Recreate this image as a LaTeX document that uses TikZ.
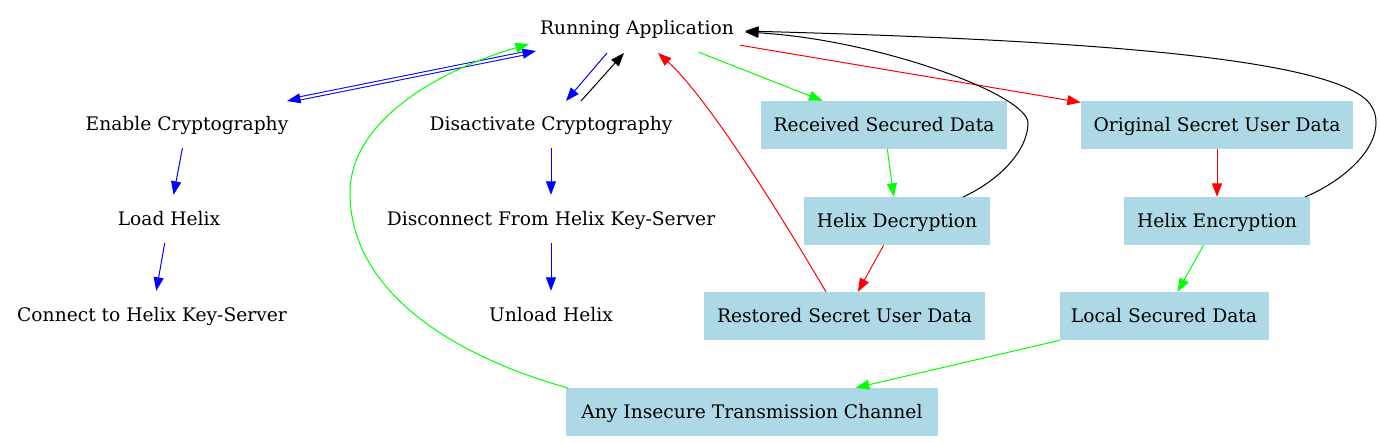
\documentclass[tikz,border=0pt]{standalone}
\usepackage{fontspec}
\setmainfont{DejaVu Serif}
\usetikzlibrary{arrows.meta,calc}
\definecolor{lightblue}{RGB}{173,216,230}
\definecolor{gvgreen}{RGB}{0,255,0}
\definecolor{gvblue}{RGB}{0,0,255}
\definecolor{gvred}{RGB}{255,0,0}
\newcommand{\gvfont}{\fontsize{18.67}{22}\selectfont}
\begin{document}
\begin{tikzpicture}[x=1pt,y=-1pt,
  lbl/.style={inner xsep=6pt, inner ysep=0pt, minimum height=48pt, font=\gvfont, text height=16pt, text depth=2.5pt},
  box/.style={lbl, fill=lightblue},
  tip/.style={-{Triangle[length=13.5pt,width=10pt]}},
  conn/.style={line width=1pt, tip},
]
\useasboundingbox (0,0) rectangle (1380,443);

% text nodes
\node[lbl] (run)    at (637,28)  {Running Application};
\node[lbl] (enable) at (187,124) {Enable Cryptography};
\node[lbl] (disact) at (551,124) {Disactivate Cryptography};
\node[lbl] (load)   at (169,219) {Load Helix};
\node[lbl] (disc)   at (551,219) {Disconnect From Helix Key-Server};
\node[lbl] (connk)  at (152,315) {Connect to Helix Key-Server};
\node[lbl] (unload) at (551,315) {Unload Helix};

% boxes
\node[box, minimum width=246pt] (recv)  at (884,125)   {Received Secured Data};
\node[box, minimum width=272pt] (orig)  at (1217,125)  {Original Secret User Data};
\node[box, minimum width=186pt] (dec)   at (897,221)   {Helix Decryption};
\node[box, minimum width=186pt] (enc)   at (1217,221)  {Helix Encryption};
\node[box, minimum width=281pt] (rest)  at (844.5,316) {Restored Secret User Data};
\node[box, minimum width=209pt] (local) at (1164,316)  {Local Secured Data};
\node[box, minimum width=372pt] (any)   at (752,412)   {Any Insecure Transmission Channel};

% blue double edge run <-> enable
\draw[gvblue, line width=1pt, double=white, double distance=2.2pt,
  {Triangle[length=13.5pt,width=10pt]}-{Triangle[length=13.5pt,width=10pt]}]
  ($(enable.center)+(100,-23)$) -- ($(run.center)+(-101,23)$);

% run <-> disact
\draw[conn, gvblue] ($(run.center)+(-30,25)$) -- ($(disact.center)+(15,-23)$);
\draw[conn, black]  ($(disact.center)+(30,-23)$) -- ($(run.center)+(-13,25)$);

% left chains
\draw[conn, gvblue] (enable) -- (load);
\draw[conn, gvblue] (load) -- (connk);
\draw[conn, gvblue] (disact) -- (disc);
\draw[conn, gvblue] (disc) -- (unload);

% right part
\draw[conn, gvgreen] (run) -- (recv);
\draw[conn, gvred]   (run) -- (orig);
\draw[conn, gvgreen] (recv) -- (dec);
\draw[conn, gvred]   (orig) -- (enc);
\draw[conn, gvred]   (dec) -- (rest);
\draw[conn, gvgreen] (enc) -- (local);
\draw[conn, gvgreen] (local) -- (any);

% curves back to run
\draw[conn, black] ($(dec.center)+(66,-24)$) .. controls (1000,180) and (1028,150) .. (1028,123)
  .. controls (1028,95) and (880,40) .. ($(run.center)+(108,4)$);
\draw[conn, black] ($(enc.center)+(88,-24)$) .. controls (1345,180) and (1376,150) .. (1376,123)
  .. controls (1376,105) and (1365,95) .. (1340,85)
  .. controls (1250,50) and (1000,38) .. ($(run.center)+(108,3)$);
\draw[conn, gvred] ($(rest.center)+(-18.5,-24)$) .. controls (775,205) and (705,95) .. ($(run.center)+(21,25)$);
\draw[conn, gvgreen] ($(any.center)+(-184,-24)$) .. controls (450,355) and (350,290) .. (350,193)
  .. controls (350,120) and (440,70) .. ($(run.center)+(-108,16)$);
\end{tikzpicture}
\end{document}
